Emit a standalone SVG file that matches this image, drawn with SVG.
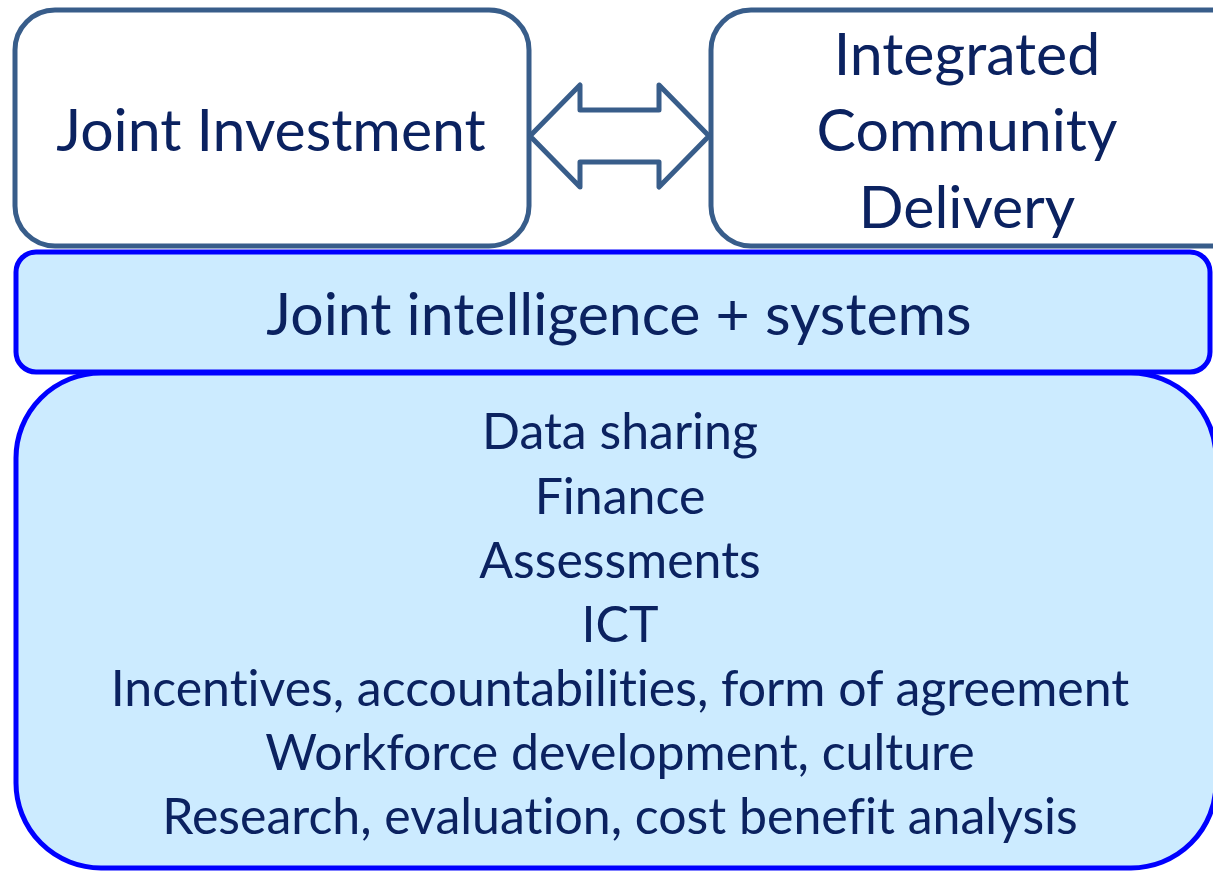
<svg xmlns="http://www.w3.org/2000/svg" width="1213" height="872" viewBox="0 0 1213 872">
<style>
.t{font-family:Lato,"Liberation Sans",sans-serif;fill:#0B2260;text-anchor:middle;font-variant-ligatures:none}
.big{font-size:59px}
.small{font-size:50px}
.top{fill:#FFFFFF;stroke:#385D8A;stroke-width:5}
.blue{fill:#CCEBFF;stroke:#0000FF;stroke-width:5}
</style>
<rect width="1213" height="872" fill="#FFFFFF"/>
<g id="joint-investment">
<rect class="top" x="15" y="10" width="514" height="236" rx="40"/>
<text class="t big" x="271" y="151">Joint Investment</text>
</g>
<g id="integrated-community-delivery">
<rect class="top" x="711" y="10" width="540" height="236" rx="40"/>
<text class="t big" x="967" y="75">Integrated</text>
<text class="t big" x="967" y="151">Community</text>
<text class="t big" x="967" y="228">Delivery</text>
</g>
<g id="connectors">
<path d="M530,136 L580,85 L580,110 L659,110 L659,85 L709,136 L659,187 L659,162 L580,162 L580,187 Z" fill="#FFFFFF" stroke="#385D8A" stroke-width="5" stroke-linejoin="round"/>
</g>
<g id="bottom-box">
<rect class="blue" x="16" y="373" width="1200" height="495" rx="85"/>
<text class="t small" x="620" y="449">Data sharing</text>
<text class="t small" x="620" y="514">Finance</text>
<text class="t small" x="620" y="578">Assessments</text>
<text class="t small" x="620" y="642">ICT</text>
<text class="t small" x="620" y="706">Incentives, accountabilities, form of agreement</text>
<text class="t small" x="620" y="770">Workforce development, culture</text>
<text class="t small" x="620" y="834">Research, evaluation, cost benefit analysis</text>
</g>
<g id="joint-intelligence">
<rect class="blue" x="16" y="252" width="1194" height="120" rx="20"/>
<text class="t big" x="619" y="335">Joint intelligence + systems</text>
</g>
</svg>
